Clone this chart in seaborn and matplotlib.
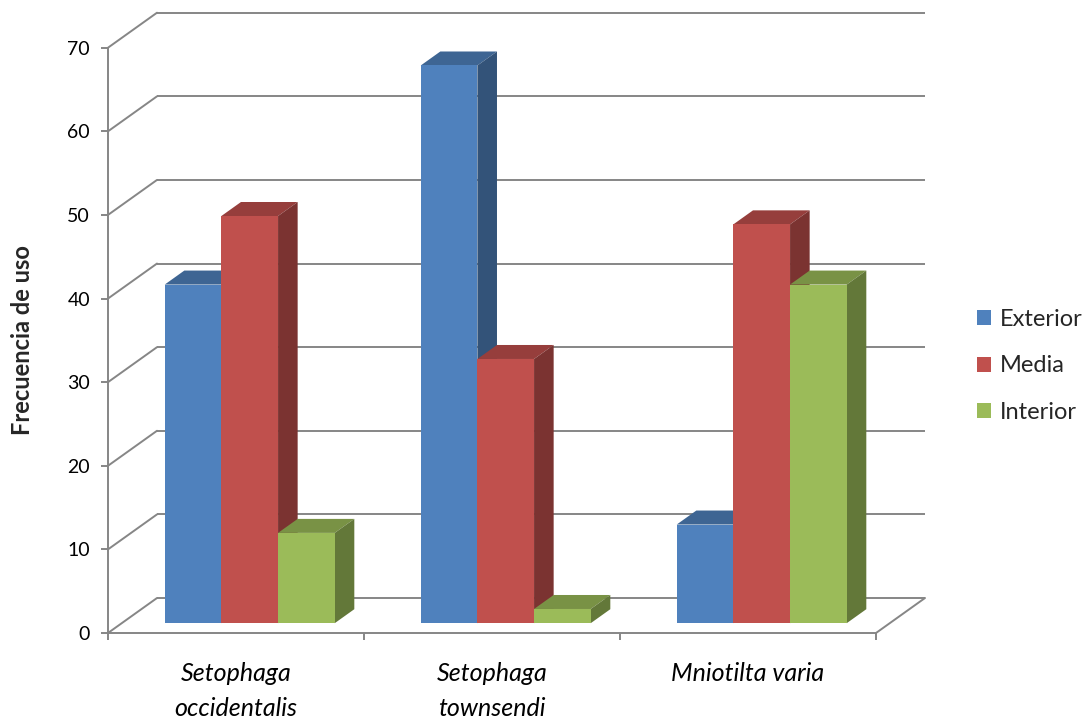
import numpy as np
import pandas as pd
import matplotlib
matplotlib.use("Agg")
import matplotlib.pyplot as plt
import seaborn as sns
from matplotlib.patches import Polygon, Patch
from matplotlib.colors import to_rgb

# Data: use frequency (%) per foraging stratum for each warbler species
species = ["Setophaga\noccidentalis", "Setophaga\ntownsendi", "Mniotilta varia"]
strata = ["Exterior", "Media", "Interior"]
exterior = [40.5, 66.7, 11.8]
media = [48.7, 31.6, 47.7]
interior = [10.8, 1.7, 40.5]
yticks = [0, 10, 20, 30, 40, 50, 60, 70]

colors = ["#4F81BD", "#C0504D", "#9BBB59"]
grid_color = "#868686"

df = pd.DataFrame({
    "especie": species * 3,
    "estrato": np.repeat(strata, len(species)),
    "frecuencia": exterior + media + interior,
})

sns.set_theme(style="white")
plt.rcParams["font.family"] = ["Lato", "DejaVu Sans"]

W, H = 1089, 721
fig = plt.figure(figsize=(W / 100, H / 100), dpi=100)
# front plane of the 3-D box
ax_left, ax_right, ax_bottom, ax_top = 108, 876, 633, 47.7
ax = fig.add_axes([ax_left / W, 1 - ax_bottom / H,
                   (ax_right - ax_left) / W, (ax_bottom - ax_top) / H])

sns.barplot(data=df, x="especie", y="frecuencia", hue="estrato",
            order=species, hue_order=strata, palette=colors, saturation=1,
            width=0.664, errorbar=None, legend=False, linewidth=0,
            edgecolor="none", ax=ax)

ax.set_xlim(-0.5, 2.5)
ax.set_ylim(0, 70)

# oblique depth offsets in data units
px_x = (ax_right - ax_left) / 3.0
px_y = (ax_bottom - ax_top) / 70.0
DX = 49 / px_x
DY = 35 / px_y
D0, D1 = 0.28, 0.68  # bar depth: front and back fractions


def shade(c, f):
    r, g, b = to_rgb(c)
    return (r * f, g * f, b * f)


# walls: back-wall gridlines and left-wall diagonals
x0, x1 = -0.5, 2.5
for v in yticks:
    ax.plot([x0 + DX, x1 + DX], [v + DY, v + DY], color=grid_color, lw=1.4,
            zorder=1, clip_on=False, solid_capstyle="butt")
    ax.plot([x0, x0 + DX], [v, v + DY], color=grid_color, lw=1.4,
            zorder=1, clip_on=False)
ax.plot([x1, x1 + DX], [0, DY], color=grid_color, lw=1.4, zorder=1,
        clip_on=False)

# turn flat bars into prisms
bars = sorted(ax.patches, key=lambda p: p.get_x())
for i, bar in enumerate(bars):
    bx0 = bar.get_x()
    w = bar.get_width()
    h = bar.get_height()
    face = bar.get_facecolor()
    fx, fy = bx0 + D0 * DX, D0 * DY
    kx, ky = bx0 + D1 * DX, D1 * DY
    z = 3 + i * 0.01
    bar.set_x(fx)
    bar.set_y(fy)
    bar.set_zorder(z + 0.005)
    bar.set_clip_on(False)
    top = Polygon([(fx, fy + h), (fx + w, fy + h), (kx + w, ky + h), (kx, ky + h)],
                  closed=True, fc=shade(face, 0.78), ec="none", zorder=z,
                  clip_on=False)
    side = Polygon([(fx + w, fy), (kx + w, ky), (kx + w, ky + h), (fx + w, fy + h)],
                   closed=True, fc=shade(face, 0.64), ec="none", zorder=z,
                   clip_on=False)
    ax.add_patch(top)
    ax.add_patch(side)

# axes styling
for s in ["top", "right"]:
    ax.spines[s].set_visible(False)
for s in ["left", "bottom"]:
    ax.spines[s].set_color(grid_color)
    ax.spines[s].set_linewidth(1.4)
    ax.spines[s].set_zorder(2)

ax.set_yticks(yticks)
ax.tick_params(axis="y", direction="out", length=5, width=1.4, color=grid_color,
               labelsize=14, labelcolor="black", pad=8, left=True)
ax.set_xticks(range(len(species)), labels=species, fontstyle="italic",
              linespacing=1.62)
ax.tick_params(axis="x", which="major", length=0, labelsize=18,
               labelcolor="black", pad=21)
ax.set_xticks([-0.5, 0.5, 1.5, 2.5], minor=True)
ax.tick_params(axis="x", which="minor", direction="out", length=5, width=1.4,
               color=grid_color, bottom=True)

ax.set_xlabel("")
ax.set_ylabel("Frecuencia de uso", fontsize=17, fontweight="bold")
ax.yaxis.set_label_coords((34 - ax_left) / (ax_right - ax_left), 0.5)

handles = [Patch(facecolor=c, edgecolor="none") for c in colors]
fig.legend(handles, strata, loc="center left",
           bbox_to_anchor=(977 / W, 1 - 366 / H), frameon=False, fontsize=17,
           handlelength=0.6, handleheight=0.6, handletextpad=0.38,
           labelspacing=1.09, borderpad=0, borderaxespad=0)

fig.savefig("out.png", dpi=100, facecolor="white")
